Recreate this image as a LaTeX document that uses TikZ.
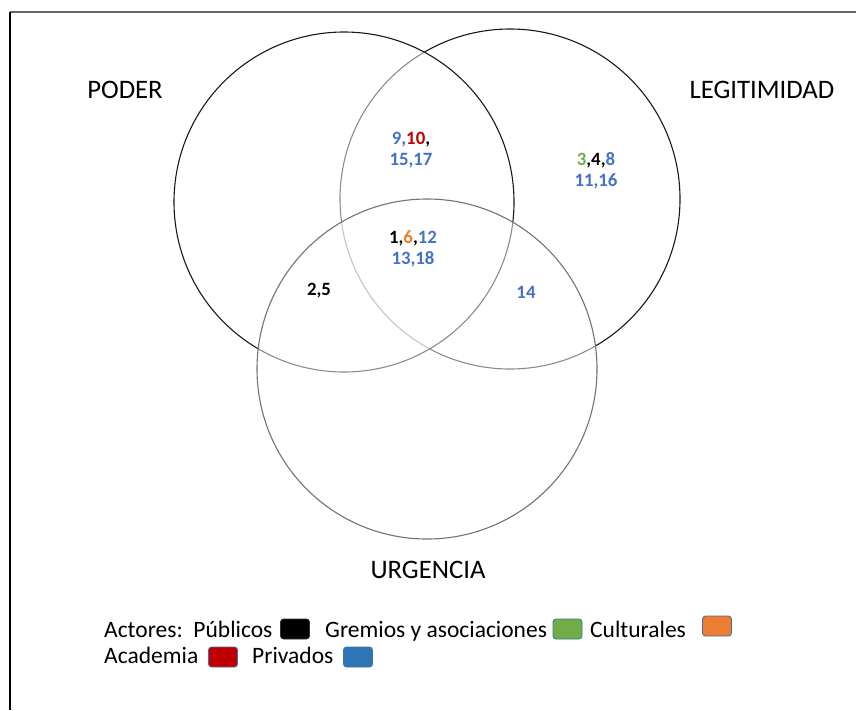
\documentclass[tikz,border=0pt]{standalone}
\usepackage{fontspec}
\setmainfont{Carlito}
\definecolor{numblue}{HTML}{4472C4}
\definecolor{numred}{HTML}{C00000}
\definecolor{numorange}{HTML}{ED7D31}
\definecolor{numgreen}{HTML}{70AD47}
\definecolor{boxblue}{HTML}{2E75B6}
\definecolor{boxedge}{HTML}{41719C}
\begin{document}
\begin{tikzpicture}[x=1pt,y=-1pt,
  setcircle/.style={circle, minimum size=340pt, inner sep=0pt, line width=1.1pt, fill=white, fill opacity=0.5},
  setlabel/.style={font=\fontsize{26.7}{32}\selectfont, inner sep=0pt},
  nums/.style={font=\fontsize{18.8}{21}\selectfont\bfseries, align=center, inner sep=0pt, text=numblue},
  legtext/.style={font=\fontsize{23.5}{28}\selectfont, inner sep=0pt, anchor=base west},
  legbox/.style={draw=boxedge, line width=0.8pt, rounded corners=3pt, minimum width=29pt, minimum height=20pt, inner sep=0pt}]
\useasboundingbox (0,0) rectangle (856,710);
% frame
\coordinate (ftl) at (10,12);
\coordinate (ftr) at (856,12);
\coordinate (fbl) at (10,710);
\draw[line width=1.8pt, black!60] (ftl) -- (ftr);
\draw[line width=1.8pt, black] (ftl) -- (fbl);
% circles
\node[setcircle, draw=black!90] (legit) at (510,199) {};
\node[setcircle, draw=black!90] (poder) at (344,202) {};
\node[setcircle, draw=black!55] (urg) at (427,369) {};
% labels
\node[setlabel] (lpoder) at (125,90) {PODER};
\node[setlabel] (llegit) at (762,90) {LEGITIMIDAD};
\node[setlabel] (lurg) at (428,570) {URGENCIA};
% numbers
\node[nums] (pl) at (411,150) {9,\textcolor{numred}{10}\textcolor{black}{,}\\15,17};
\node[nums] (lo) at (596,171) {\textcolor{numgreen}{3}\textcolor{black}{,4,}8\\11,16};
\node[nums] (all) at (413,249) {\textcolor{black}{1,}\textcolor{numorange}{6}\textcolor{black}{,}12\\13,18};
\node[nums] (lu) at (526,292) {14};
\node[nums, text=black] (pu) at (319,291) {2,5};
% legend
\node[legtext] (tact) at (104,637) {Actores:\ \ Públicos};
\node[legbox, fill=black, draw=black!80] (bpub) at (295,629) {};
\node[legtext] (tgre) at (325,637) {Gremios y asociaciones};
\node[legbox, fill=numgreen] (bgre) at (567.5,629) {};
\node[legtext] (tcul) at (590,637) {Culturales};
\node[legbox, fill=numorange] (bcul) at (717,626) {};
\node[legtext] (taca) at (104,663) {Academia};
\node[legbox, fill=numred] (baca) at (223,657) {};
\node[legtext] (tpri) at (252,663) {Privados};
\node[legbox, fill=boxblue] (bpri) at (358,657) {};
\end{tikzpicture}
\end{document}
